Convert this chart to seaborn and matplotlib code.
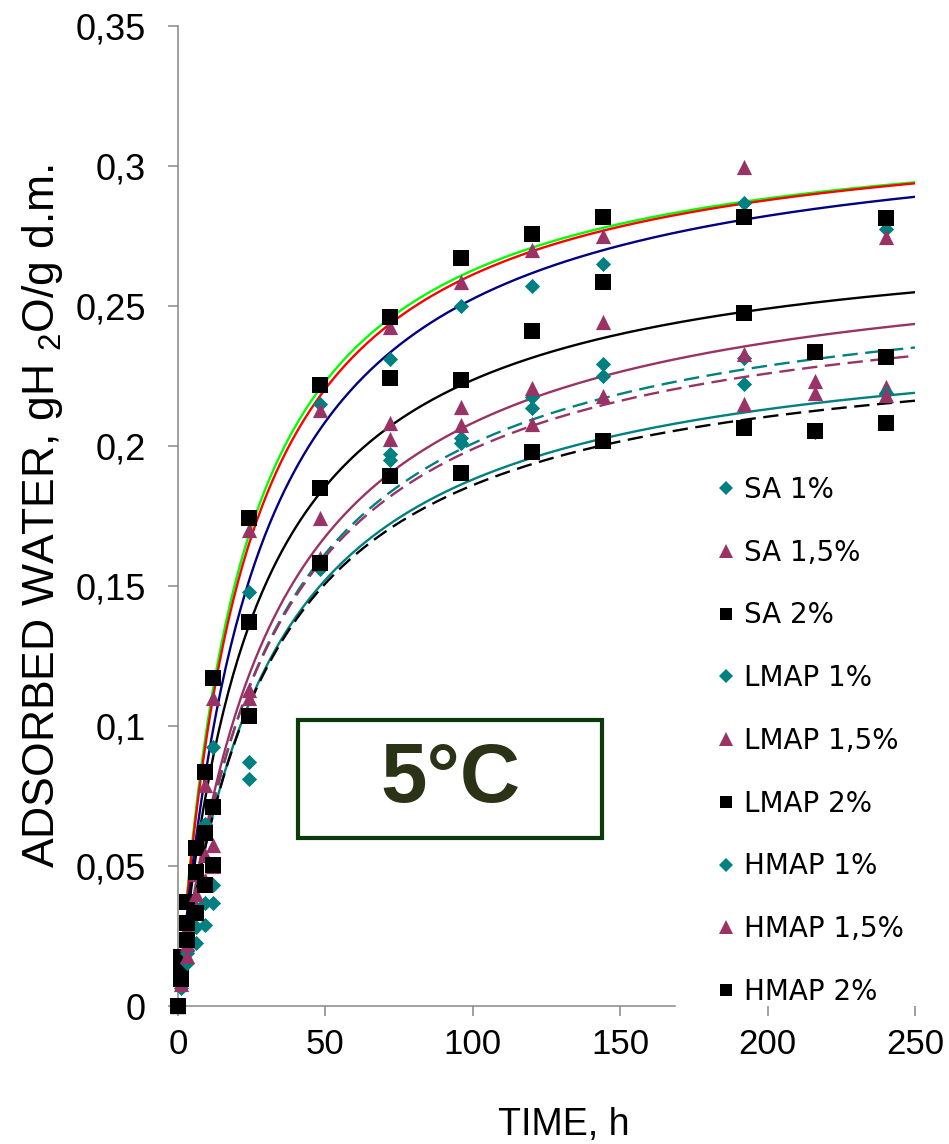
import numpy as np
import pandas as pd
import matplotlib
matplotlib.use("Agg")
import matplotlib.pyplot as plt
from matplotlib.lines import Line2D
from matplotlib.patches import Rectangle
from matplotlib.ticker import FuncFormatter
import seaborn as sns

# sampling times (h)
time_h = [0, 1, 3, 6, 9, 12, 24, 48, 72, 96, 120, 144, 192, 216, 240]

# measured adsorbed water, gH2O/g d.m.
sa_1 = [0, 0.012, 0.020, 0.035, 0.065, 0.0925, 0.148, 0.2152, 0.231, 0.250, 0.2571, 0.2652, 0.2869, np.nan, 0.2774]
sa_15 = [0, 0.012, 0.028, 0.047, 0.0789, 0.110, 0.170, 0.2129, 0.2426, 0.2587, 0.270, 0.275, 0.2995, np.nan, 0.2748]
sa_2 = [0, 0.0175, 0.0373, 0.0563, 0.0837, 0.117, 0.1742, 0.2218, 0.2462, 0.267, 0.2757, 0.2817, 0.2819, np.nan, 0.2815]
lmap_1 = [0, 0.010, 0.0189, 0.0283, 0.0367, 0.0432, 0.087, 0.158, 0.197, 0.203, 0.2176, 0.2292, 0.2316, 0.2337, 0.2319]
lmap_15 = [0, 0.010, 0.022, 0.040, 0.054, 0.0575, 0.113, 0.1742, 0.2081, 0.2138, 0.2206, 0.2442, 0.233, 0.2233, 0.2212]
lmap_2 = [0, 0.013, 0.0296, 0.048, 0.0617, 0.0712, 0.1373, 0.1849, 0.2242, 0.2236, 0.2411, 0.2585, 0.2474, 0.2337, 0.2319]
hmap_1 = [0, 0.0064, 0.0154, 0.0225, 0.029, 0.0367, 0.081, 0.156, 0.195, 0.201, 0.2135, 0.2251, 0.2221, 0.205, 0.219]
hmap_15 = [0, 0.008, 0.018, 0.035, 0.045, 0.050, 0.110, 0.160, 0.2024, 0.2075, 0.2079, 0.218, 0.215, 0.219, 0.2182]
hmap_2 = [0, 0.0095, 0.0236, 0.0332, 0.0432, 0.0504, 0.1036, 0.1581, 0.1893, 0.1905, 0.198, 0.2018, 0.2065, 0.2055, 0.2083]

series_names = ["SA 1%", "SA 1,5%", "SA 2%", "LMAP 1%", "LMAP 1,5%", "LMAP 2%",
                "HMAP 1%", "HMAP 1,5%", "HMAP 2%"]
series_values = [sa_1, sa_15, sa_2, lmap_1, lmap_15, lmap_2, hmap_1, hmap_15, hmap_2]

# fitted curves y = a*t/(b+t)
fit_a = [0.3197, 0.3205, 0.3198, 0.2812, 0.2747, 0.2654, 0.2614, 0.2460, 0.2424]
fit_b = [21.66, 22.69, 26.62, 25.75, 31.9, 32.1, 31.4, 30.8, 30.3]
fit_colors = ["#00ff00", "#ff0000", "#000080", "#000000", "#993366",
              "#008080", "#993366", "#008080", "#000000"]
fit_dashed = [False, False, False, False, False, True, True, False, True]

TEAL, PURPLE, BLACK = "#008080", "#993366", "#000000"
marker_style = {"1%": ("D", TEAL, 60), "1,5%": ("^", PURPLE, 120), "2%": ("s", BLACK, 135)}


def conc(name):
    return name.split()[-1]


sns.set_style("ticks")
plt.rcParams["font.family"] = ["Liberation Sans", "DejaVu Sans"]
plt.rcParams["mathtext.default"] = "regular"
plt.rcParams["text.color"] = "black"
plt.rcParams["axes.labelcolor"] = "black"
plt.rcParams["xtick.labelcolor"] = "black"
plt.rcParams["ytick.labelcolor"] = "black"

fig = plt.figure(figsize=(9.49, 11.44), dpi=100)
ax = fig.add_axes([0.18757, 0.1206, 0.7766, 0.8566])

# fitted curves
t_fit = np.linspace(3, 250, 300)
for a, b, col, dashed in zip(fit_a, fit_b, fit_colors, fit_dashed):
    y_fit = a * t_fit / (b + t_fit)
    ls = (0, (6.5, 3.2)) if dashed else "-"
    sns.lineplot(x=t_fit, y=y_fit, color=col, linewidth=1.7, linestyle=ls,
                 errorbar=None, ax=ax, zorder=3)

# measured points
df = pd.DataFrame({"time": np.tile(time_h, len(series_names)),
                   "water": np.concatenate(series_values),
                   "series": np.repeat(series_names, len(time_h))})
for name in series_names:
    m, col, s = marker_style[conc(name)]
    sub = df[df["series"] == name].dropna()
    sns.scatterplot(data=sub, x="time", y="water", marker=m, color=col, s=s,
                    linewidth=0, ax=ax, zorder=4, clip_on=False)

ax.set_xlim(0, 250)
ax.set_ylim(0, 0.35)
ax.set_xticks(np.arange(0, 251, 50))
ax.set_yticks(np.arange(0, 0.351, 0.05))
ax.yaxis.set_major_formatter(FuncFormatter(lambda v, p: f"{v:.2f}".rstrip("0").rstrip(".").replace(".", ",")))
ax.tick_params(axis="both", labelsize=26, length=7, width=1.1, color="#868686", direction="out")
ax.tick_params(axis="y", pad=16)
ax.tick_params(axis="x", labelsize=25, pad=9)
for side in ["top", "right"]:
    ax.spines[side].set_visible(False)
for side in ["left", "bottom"]:
    ax.spines[side].set_color("#868686")
    ax.spines[side].set_linewidth(1.1)
ax.spines["bottom"].set_bounds(0, 168.6)

ax.set_xlabel("TIME, h", fontsize=27)
ax.xaxis.set_label_coords(0.524, -0.103)
ax.set_ylabel("ADSORBED WATER, gH $_2$O/g d.m.", fontsize=32)
ax.yaxis.set_label_coords(-0.154, 0.5)

# 5°C box
ax.add_patch(Rectangle((0.1628, 0.1714), 0.4125, 0.1204, transform=ax.transAxes,
                       fill=False, edgecolor="#0b3b0b", linewidth=3, zorder=5))
ax.text(0.369, 0.2306, "5°C", transform=ax.transAxes, fontsize=60, fontweight="bold",
        color="#2b3316", ha="center", va="center", zorder=5)

# legend
handles = []
for name in series_names:
    m, col, s = marker_style[conc(name)]
    ms = {"D": 7, "^": 10, "s": 9}[m]
    handles.append(Line2D([], [], marker=m, color=col, linestyle="none", markersize=ms,
                          markeredgewidth=0))
ax.legend(handles, series_names, loc="upper left",
          bbox_to_anchor=(712 / 949, 1 - 476 / 1144), bbox_transform=fig.transFigure,
          frameon=False, borderpad=0, borderaxespad=0, handlelength=1.0,
          handletextpad=0.15, labelspacing=1.25,
          prop={"family": ["DejaVu Sans"], "size": 20})

fig.savefig("out.png", dpi=100)
